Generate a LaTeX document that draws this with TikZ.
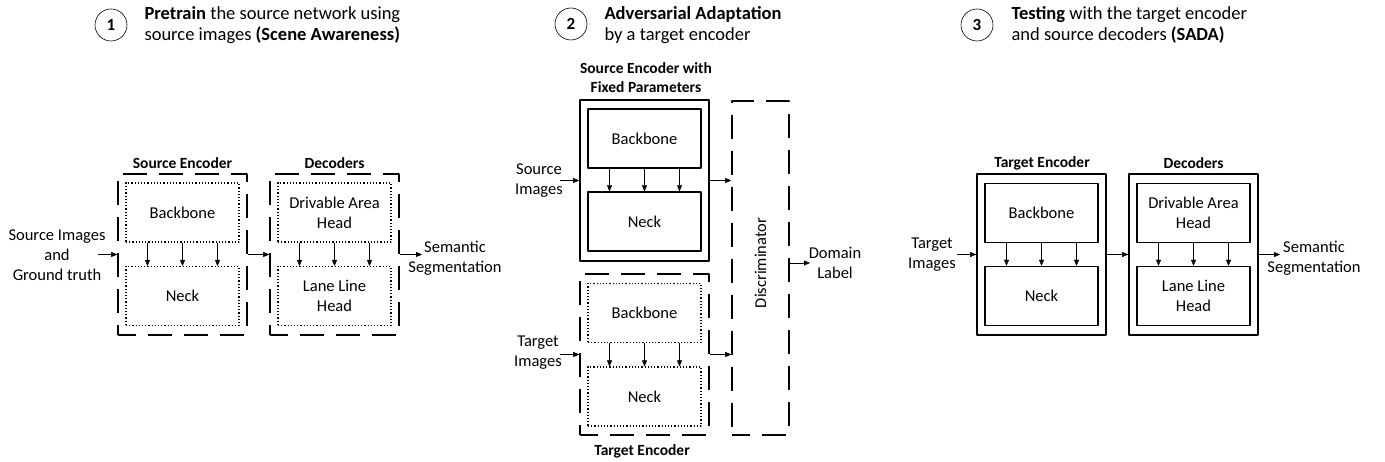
\documentclass[tikz,border=0pt]{standalone}
\usepackage{fontspec}
\setmainfont{Carlito}
\usetikzlibrary{arrows.meta}
\tikzset{
  dashbox/.style={draw, line width=1.6pt, dash pattern=on 24pt off 12pt, dash phase=6pt,
    minimum width=129, minimum height=161},
  solidbox/.style={draw, line width=1.8pt, minimum width=129, minimum height=161},
  dotbox/.style={draw, line width=1.1pt, dash pattern=on 1.2pt off 2pt,
    minimum width=113, minimum height=59, align=center},
  blockbox/.style={draw, line width=1.4pt, minimum width=113, minimum height=59, align=center},
  boxtitle/.style={font=\fontsize{15.5}{19}\selectfont\bfseries, align=center},
  steplabel/.style={draw, circle, line width=0.6pt, minimum size=32, inner sep=0pt,
    font=\fontsize{17}{20}\selectfont\bfseries},
  heading/.style={anchor=west, align=left, font=\fontsize{18.5}{21.5}\selectfont},
}
\begin{document}
\begin{tikzpicture}[x=1pt, y=-1pt, >={Triangle[length=6pt,width=5pt]}, line join=round,
    font=\fontsize{16.5}{20}\selectfont]
\useasboundingbox (0,0) rectangle (1385,462);
% headings
\node[steplabel] (c1) at (111,25) {1};
\node[heading] (h1) at (141,25) {\textbf{Pretrain} the source network using\\source images \textbf{(Scene Awareness)}};
\node[steplabel] (c2) at (571,24) {2};
\node[heading] (h2) at (601,25) {\textbf{Adversarial Adaptation}\\by a target encoder};
\node[steplabel] (c3) at (977,25) {3};
\node[heading] (h3) at (1008,25) {\textbf{Testing} with the target encoder\\and source decoders \textbf{(SADA)}};

% (1) pretraining
\node[dashbox] (sencL) at (182.5,254.5) {};
\node[dotbox] (bbL) at (182.5,212.5) {Backbone};
\node[dotbox] (nkL) at (182.5,296) {Neck};
\node[boxtitle] at (182.5,163) {Source Encoder};
\node[dashbox] (decL) at (334.5,254.5) {};
\node[dotbox] (daL) at (334.5,212.5) {Drivable Area\\Head};
\node[dotbox] (llL) at (334.5,296) {Lane Line\\Head};
\node[boxtitle] at (334.5,163) {Decoders};
\foreach \dx in {-35,0,35}{
  \draw[->] ([xshift=\dx]bbL.south) -- ([xshift=\dx]nkL.north);
  \draw[->] ([xshift=\dx]daL.south) -- ([xshift=\dx]llL.north);
}
\node[align=center] (inL) at (57,255) {Source Images\\and\\Ground truth};
\coordinate (inLa) at (98,254.5);
\draw[->] (inLa) -- (sencL.west);
\draw[->] (sencL.east) -- (decL.west);
\coordinate (outLa) at (422,254.5);
\draw[->] (decL.east) -- (outLa);
\node[align=center] (outL) at (455,258) {Semantic\\Segmentation};

% (2) adversarial adaptation
\node[boxtitle] at (646,78) {Source Encoder with\\Fixed Parameters};
\node[solidbox] (sencM) at (644.5,180.5) {};
\node[blockbox] (bbM) at (644.5,138.5) {Backbone};
\node[blockbox] (nkM) at (644.5,221.5) {Neck};
\node[dashbox] (tencM) at (644.5,354.5) {};
\node[dotbox] (bbT) at (644.5,313) {Backbone};
\node[dotbox] (nkT) at (644.5,396.5) {Neck};
\node[boxtitle] at (642,451) {Target Encoder};
\foreach \dx in {-35,0,35}{
  \draw[->] ([xshift=\dx]bbM.south) -- ([xshift=\dx]nkM.north);
  \draw[->] ([xshift=\dx]bbT.south) -- ([xshift=\dx]nkT.north);
}
\node[draw, line width=1.6pt, dash pattern=on 24pt off 12pt, dash phase=6pt,
  minimum width=57, minimum height=334] (disc) at (760.5,268) {};
\node[rotate=90] at (760.5,263) {Discriminator};
\node[align=center] (srcM) at (539,180.5) {Source\\Images};
\coordinate (srcMa) at (560,180.5);
\draw[->] (srcMa) -- (sencM.west);
\node[align=center] (tgtM) at (538,353) {Target\\Images};
\coordinate (tgtMa) at (560,354.5);
\draw[->] (tgtMa) -- (tencM.west);
\draw[->] (sencM.east) -- (sencM.east -| disc.west);
\draw[->] (tencM.east) -- (tencM.east -| disc.west);
\coordinate (discA) at (810,263);
\draw[->] (disc.east |- discA) -- (discA);
\node[align=center] (dom) at (835,263) {Domain\\Label};

% (3) testing
\node[solidbox] (tencR) at (1041.5,254.5) {};
\node[blockbox] (bbR) at (1041.5,213) {Backbone};
\node[blockbox] (nkR) at (1041.5,296) {Neck};
\node[boxtitle] at (1042,163) {Target Encoder};
\node[solidbox] (decR) at (1193.5,254.5) {};
\node[blockbox] (daR) at (1193.5,213) {Drivable Area\\Head};
\node[blockbox] (llR) at (1193.5,296) {Lane Line\\Head};
\node[boxtitle] at (1193.5,163) {Decoders};
\foreach \dx in {-35,0,35}{
  \draw[->] ([xshift=\dx]bbR.south) -- ([xshift=\dx]nkR.north);
  \draw[->] ([xshift=\dx]daR.south) -- ([xshift=\dx]llR.north);
}
\node[align=center] (inR) at (932,255) {Target\\Images};
\coordinate (inRa) at (957,254.5);
\draw[->] (inRa) -- (tencR.west);
\draw[->] (tencR.east) -- (decR.west);
\coordinate (outRa) at (1280,254.5);
\draw[->] (decR.east) -- (outRa);
\node[align=center] (outR) at (1314,258) {Semantic\\Segmentation};
\end{tikzpicture}
\end{document}
